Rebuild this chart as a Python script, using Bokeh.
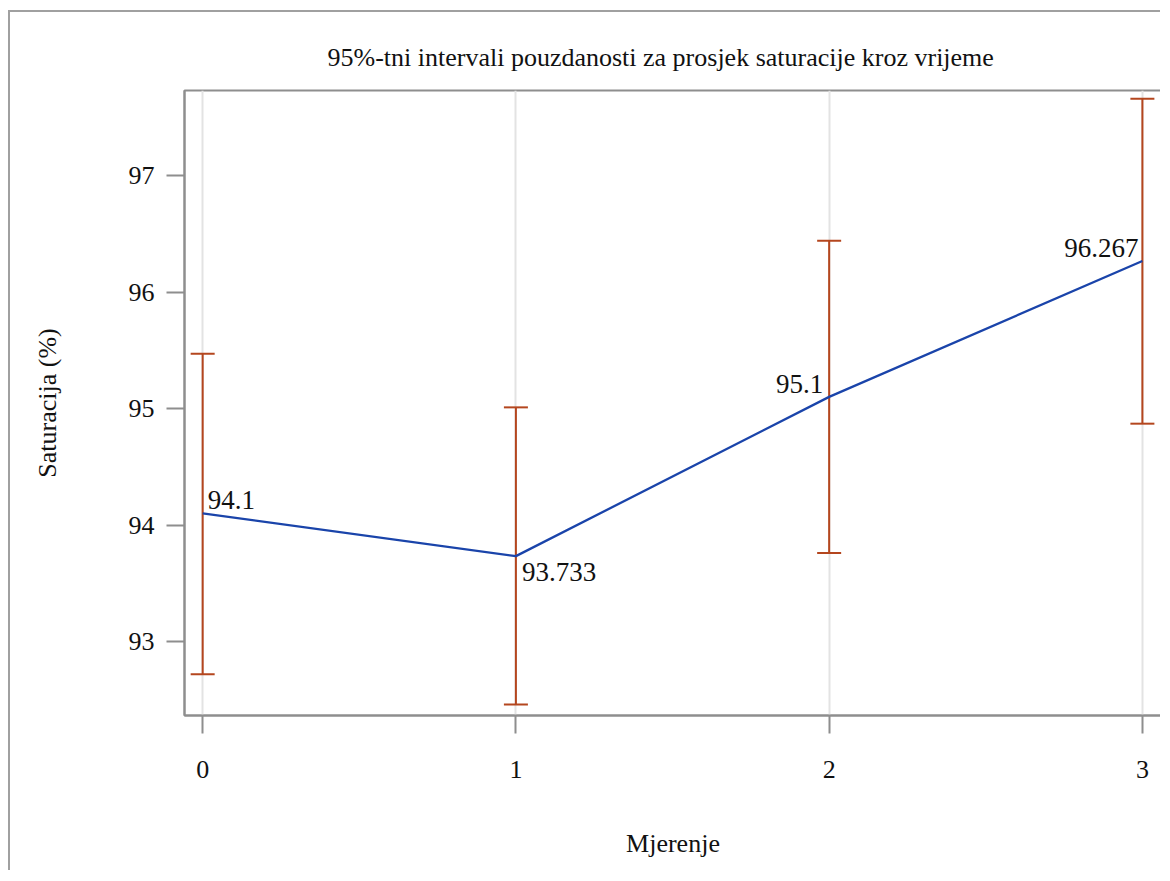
from bokeh.plotting import figure
from bokeh.models import ColumnDataSource, Whisker, TeeHead, FixedTicker, Range1d
from bokeh.core.properties import value
from bokeh.embed import file_html
from bokeh.resources import INLINE

# ---- data ----
measurements = [0, 1, 2, 3]
means = [94.1, 93.733, 95.1, 96.267]
lower = [92.72, 92.46, 93.76, 94.87]
upper = [95.47, 95.01, 96.44, 97.66]
labels = ["94.1", "93.733", "95.1", "96.267"]
y_ticks = [93, 94, 95, 96, 97]

FONT_NAME = "'Liberation Serif', 'Times New Roman', serif"
FONT = value(FONT_NAME)
GRAY = "#8e8e8e"
BLUE = "#1a44aa"
RUST = "#b4461e"

p = figure(width=1152, height=860, output_backend="svg", toolbar_location=None,
           x_range=Range1d(-0.058, 3.061), y_range=Range1d(92.365, 97.73),
           min_border_left=174, min_border_right=1, min_border_top=78, min_border_bottom=157,
           title="95%-tni intervali pouzdanosti za prosjek saturacije kroz vrijeme")
p.styles = {"border-top": "2px solid #a0a0a0", "border-left": "2px solid #a0a0a0",
            "margin-left": "8px", "margin-top": "10px"}

p.title.text_font = FONT_NAME
p.title.text_font_size = "26px"
p.title.text_font_style = "normal"
p.title.align = "left"
p.title.offset = 143
p.title.standoff = 37
p.title.text_color = "#111111"

p.outline_line_color = GRAY
p.outline_line_width = 2
p.background_fill_color = "white"
p.border_fill_color = "white"

for ax in (p.xaxis, p.yaxis):
    ax.axis_line_color = GRAY
    ax.axis_line_width = 2
    ax.major_tick_line_color = GRAY
    ax.major_tick_line_width = 2
    ax.major_tick_out = 18
    ax.major_tick_in = 0
    ax.minor_tick_line_color = None
    ax.major_label_text_font = FONT_NAME
    ax.major_label_text_font_size = "26px"
    ax.major_label_text_color = "#111111"
    ax.axis_label_text_font = FONT_NAME
    ax.axis_label_text_font_size = "26px"
    ax.axis_label_text_font_style = "normal"
    ax.axis_label_text_color = "#111111"

p.xaxis.ticker = FixedTicker(ticks=measurements)
p.yaxis.ticker = FixedTicker(ticks=y_ticks)
p.xaxis.axis_label = "Mjerenje"
p.yaxis.axis_label = "Saturacija (%)"
p.xaxis.major_label_standoff = 27
p.xaxis.axis_label_standoff = 48
p.yaxis.major_label_standoff = 12
p.yaxis.axis_label_standoff = 64
p.yaxis.major_label_orientation = "horizontal"

p.xgrid.grid_line_color = "#e3e3e3"
p.xgrid.grid_line_width = 2
p.ygrid.grid_line_color = None

src = ColumnDataSource(dict(x=measurements, mean=means, lo=lower, hi=upper, label=labels))

p.line("x", "mean", source=src, line_color=BLUE, line_width=2.3)

w = Whisker(base="x", lower="lo", upper="hi", source=src, dimension="height",
            line_color=RUST, line_width=2,
            upper_head=TeeHead(size=24, line_color=RUST, line_width=2),
            lower_head=TeeHead(size=24, line_color=RUST, line_width=2))
p.add_layout(w)

# label styles (per point)
aligns = ["left", "left", "right", "right"]
xoffs = [5, 6, -6, -4]
yoffs = [-13, 16, -13, -13]
for i in range(len(measurements)):
    p.text(x=[measurements[i]], y=[means[i]], text=[labels[i]],
           text_font=FONT, text_font_size="27px", text_color="#111111",
           text_align=aligns[i], text_baseline="middle",
           x_offset=xoffs[i], y_offset=yoffs[i])

open("out.html", "w").write(file_html(p, INLINE))
